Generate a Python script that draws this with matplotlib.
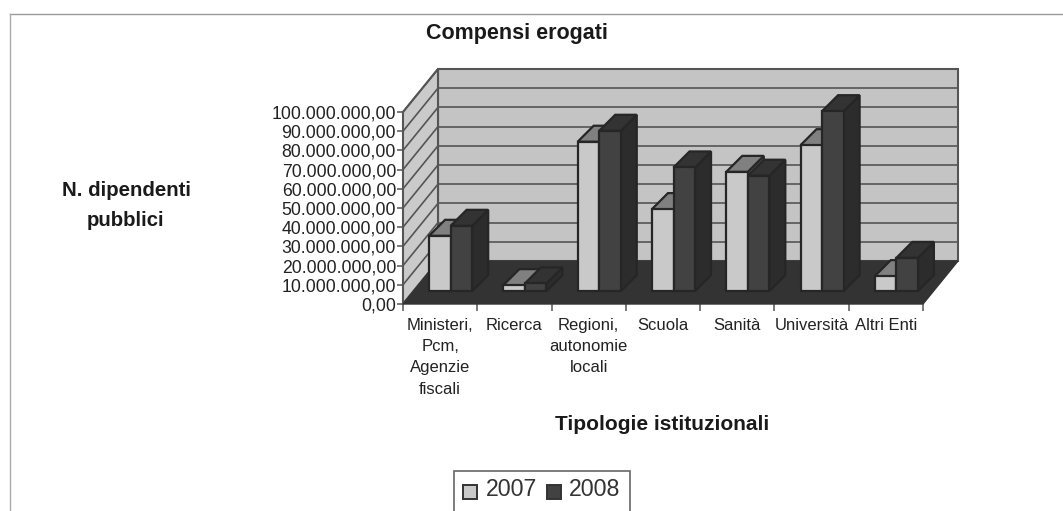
import matplotlib
matplotlib.use("Agg")
import matplotlib.pyplot as plt
from matplotlib.patches import Polygon, Rectangle
from matplotlib.transforms import Affine2D

plt.rcParams["font.family"] = ["Liberation Sans", "DejaVu Sans"]

categories = ["Ministeri,\nPcm,\nAgenzie\nfiscali", "Ricerca", "Regioni,\nautonomie\nlocali",
              "Scuola", "Sanità", "Università", "Altri Enti"]
values_2007 = [28.8e6, 3.1e6, 77.8e6, 42.7e6, 62.1e6, 76.0e6, 7.8e6]
values_2008 = [34.0e6, 4.0e6, 83.5e6, 64.4e6, 60.1e6, 93.7e6, 17.3e6]
y_ticks = [i * 10e6 for i in range(11)]
y_labels = ["0,00"] + [f"{v:,.2f}".replace(",", "#").replace(".", ",").replace("#", ".") for v in y_ticks[1:]]

W, H = 1063, 511
fig = plt.figure(figsize=(W / 100, H / 100), dpi=100, facecolor="white")

# front plane of the fake 3d box, in pixels
left, right, top, bottom = 403, 923, 112, 304
ax = fig.add_axes([left / W, 1 - bottom / H, (right - left) / W, (bottom - top) / H])
ax.set_xlim(0, 7)
ax.set_ylim(0, 100e6)
ax.patch.set_visible(False)
for s in ax.spines.values():
    s.set_visible(False)

WALL_DX, WALL_DY = 35, 43
BAR_SHIFT = 0.3
BAR_DX, BAR_DY = 16, 16
edge = "#262626"
wall_col = "#c4c4c4"
line_col = "#555555"

back = ax.transData + Affine2D().translate(WALL_DX, WALL_DY)
pixels = Affine2D()

# back wall, left wall
ax.add_patch(Rectangle((0, 0), 7, 100e6, transform=back, fc=wall_col, ec=line_col, lw=1.5, clip_on=False, zorder=1))
ax.add_patch(Polygon([(left, H - bottom), (left + WALL_DX, H - bottom + WALL_DY),
                      (left + WALL_DX, H - top + WALL_DY), (left, H - top)],
                     transform=pixels, fc="#cacaca", ec=line_col, lw=1.5, clip_on=False, zorder=1))
# gridlines
for v in y_ticks:
    ax.plot([0, 7], [v, v], transform=back, color=line_col, lw=1.2, clip_on=False, zorder=2)
    ya = H - bottom + (bottom - top) * v / 100e6
    ax.plot([left, left + WALL_DX], [ya, ya + WALL_DY], transform=pixels, color=line_col, lw=1.2,
            clip_on=False, zorder=2)

# floor
ax.add_patch(Polygon([(left, H - bottom), (right, H - bottom), (right + WALL_DX, H - bottom + WALL_DY),
                      (left + WALL_DX, H - bottom + WALL_DY)], transform=pixels, fc="#333333", ec="#333333",
                     clip_on=False, zorder=3))

bar_w = 0.29
gap = (1 - 2 * bar_w) / 2


def draw_bar(x, v, c_front, c_top, c_side, z):
    ox, oy = BAR_SHIFT * WALL_DX, BAR_SHIFT * WALL_DY
    to_px = lambda a, b: tuple(ax.transData.transform((a, b)) + (ox, oy))
    x0, x1 = x, x + bar_w
    p00, p10, p11, p01 = to_px(x0, 0), to_px(x1, 0), to_px(x1, v), to_px(x0, v)
    side = [p10, p11, (p11[0] + BAR_DX, p11[1] + BAR_DY), (p10[0] + BAR_DX, p10[1] + BAR_DY)]
    tp = [p01, p11, (p11[0] + BAR_DX, p11[1] + BAR_DY), (p01[0] + BAR_DX, p01[1] + BAR_DY)]
    for pts, col in [(side, c_side), (tp, c_top), ([p00, p10, p11, p01], c_front)]:
        ax.add_patch(Polygon(pts, transform=pixels, fc=col, ec=edge, lw=1.6, clip_on=False, zorder=z))


for i, (a, b) in enumerate(zip(values_2007, values_2008)):
    draw_bar(i + gap, a, "#c9c9c9", "#808080", "#6e6e6e", 4 + i)
    draw_bar(i + gap + bar_w, b, "#424242", "#333333", "#2c2c2c", 4.5 + i)

# axes ticks and labels
ax.set_yticks(y_ticks, y_labels, fontsize=12.7, color="#222222")
ax.tick_params(axis="y", length=4, width=1.1, color=line_col, pad=1)
ax.set_xticks(range(8), [""] * 8)
ax.tick_params(axis="x", which="major", length=5, width=1.1, color=line_col)
ax.set_xticks([i + 0.5 for i in range(7)], categories, minor=True, fontsize=12, color="#222222", linespacing=1.52)
ax.tick_params(axis="x", which="minor", length=0, pad=10)


def px_text(x, y, s, **kw):
    fig.text(x / W, 1 - y / H, s, ha="center", va="center", color="#1a1a1a", **kw)


px_text(517, 33, "Compensi erogati", fontsize=15.5, fontweight="bold")
px_text(126, 190, "N. dipendenti", fontsize=14.7, fontweight="bold")
px_text(126, 220, "pubblici", fontsize=14.7, fontweight="bold")
px_text(662, 424, "Tipologie istituzionali", fontsize=15, fontweight="bold")

# legend box, cut by the page edge
fig.add_artist(Rectangle((454 / W, -0.02), 176 / W, 1 - 471 / H + 0.02, transform=fig.transFigure, fc="white",
                         ec="#666666", lw=1.2))
fig.add_artist(Rectangle((463 / W, 1 - 499 / H), 14 / W, 14 / H, transform=fig.transFigure, fc="#c9c9c9",
                         ec="#333333", lw=1.4))
fig.add_artist(Rectangle((547 / W, 1 - 499 / H), 14 / W, 14 / H, transform=fig.transFigure, fc="#424242",
                         ec="#333333", lw=1.4))
fig.text(486 / W, 1 - 490 / H, "2007", fontsize=16.7, va="center", color="#333333")
fig.text(569 / W, 1 - 490 / H, "2008", fontsize=16.7, va="center", color="#333333")

# page frame
fig.add_artist(plt.Line2D([10 / W, 1], [1 - 14 / H, 1 - 14 / H], color="#999999", lw=1))
fig.add_artist(plt.Line2D([10 / W, 10 / W], [1 - 14 / H, 0], color="#aaaaaa", lw=1))

fig.savefig("out.png", dpi=100, facecolor="white")
